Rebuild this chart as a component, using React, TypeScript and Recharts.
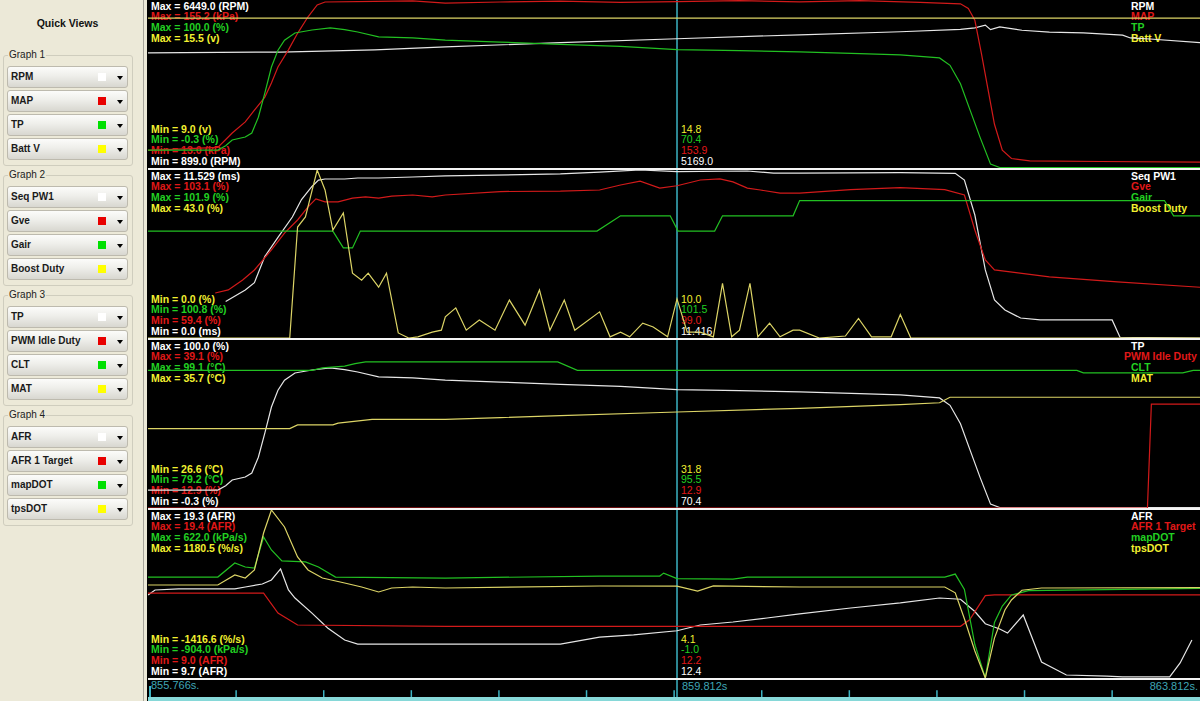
import React from "react";
import { LineChart, Line, XAxis, YAxis, ReferenceLine } from "recharts";

type Pt = [number, number];

// ---------- time axis ----------
const T_START = 855.766;
const T_END = 863.812;
const T_CURSOR = 859.812;
const TIME_TICKS = [856.44, 857.11, 857.78, 858.45, 859.12, 859.79, 860.46, 861.13, 861.8, 862.47, 863.14];
const TIME_LABELS = ["855.766s.", "859.812s", "863.812s."];

// ---------- Graph 1 ----------
const G1_NAMES = ["RPM", "MAP", "TP", "Batt V"];
const G1_UNITS = ["RPM", "kPa", "%", "v"];
const G1_MAX = [6449.0, 155.2, 100.0, 15.5];
const G1_MIN = [899.0, 13.0, -0.3, 9.0];
const G1_CUR = [5169.0, 153.9, 70.4, 14.8];
const G1_DEC = [1, 1, 1, 1];
const G1_MIN_DEC = [1, 1, 1, 1];

const RPM: Pt[] = [
  [855.766, 4700], [856.78, 4730], [857.5, 4800], [858.04, 4900], [858.92, 5040], [859.812, 5169],
  [860.75, 5300], [861.52, 5400], [861.98, 5480], [862.09, 5530], [862.17, 5620], [862.21, 5470],
  [862.28, 5560], [862.45, 5450], [862.66, 5390], [862.92, 5360], [863.22, 5290], [863.28, 5195],
  [863.43, 5160], [863.812, 5040],
];
const MAP: Pt[] = [
  [855.766, 28], [856.3, 30.5], [856.41, 42.6], [856.51, 52], [856.58, 62], [856.66, 73], [856.71, 85],
  [856.76, 98.5], [856.84, 113], [856.91, 127], [856.99, 141], [857.06, 151], [857.12, 153.5], [857.5, 154],
  [857.79, 154.5], [858.04, 152.5], [858.46, 153.5], [858.92, 154.2], [859.38, 153.2], [859.812, 153.9],
  [860.29, 154.6], [860.75, 153.6], [861.21, 154.6], [861.67, 153.2], [861.98, 152], [862.04, 148],
  [862.09, 138], [862.14, 110], [862.19, 80], [862.24, 50], [862.3, 28], [862.37, 21], [862.51, 19],
  [863.05, 18.5], [863.812, 18],
];
const TP: Pt[] = [
  [855.766, 10.4], [856.3, 10.4], [856.36, 13], [856.41, 16.4], [856.51, 18.2], [856.56, 20.6], [856.61, 30],
  [856.66, 44.5], [856.71, 60], [856.76, 70], [856.81, 76], [856.89, 80.3], [857.02, 82.1], [857.16, 83.3],
  [857.27, 82.3], [857.37, 80.9], [857.53, 78], [857.79, 77.4], [858.04, 76], [858.46, 74.9], [858.92, 73.5],
  [859.38, 72.3], [859.812, 70.4], [860.29, 69.8], [860.75, 69], [861.21, 68], [861.52, 67.2], [861.82, 65.4],
  [861.9, 61], [861.98, 50], [862.05, 35], [862.13, 18], [862.21, 2], [862.28, 0], [863.812, 0],
];
const BATT_V: Pt[] = [[855.766, 14.8], [859.812, 14.8], [863.812, 14.8]];

// ---------- Graph 2 ----------
const G2_NAMES = ["Seq PW1", "Gve", "Gair", "Boost Duty"];
const G2_UNITS = ["ms", "%", "%", "%"];
const G2_MAX = [11.529, 103.1, 101.9, 43.0];
const G2_MIN = [0.0, 59.4, 100.8, 0.0];
const G2_CUR = [11.416, 99.0, 101.5, 10.0];
const G2_DEC = [3, 1, 1, 1];
const G2_MIN_DEC = [1, 1, 1, 1];

const SEQ_PW1: Pt[] = [
  [856.36, 2.5], [856.51, 3.3], [856.58, 3.8], [856.66, 5.6], [856.76, 6.9], [856.87, 8.3], [856.94, 9.5],
  [857.02, 10.4], [857.07, 10.84], [857.12, 10.91], [857.27, 10.91], [857.37, 10.98], [857.53, 10.98],
  [857.79, 11.05], [858.04, 11.12], [858.92, 11.26], [859.22, 11.39], [859.53, 11.53], [859.812, 11.42],
  [860.35, 11.46], [860.55, 11.32], [860.75, 11.32], [861.52, 11.35], [861.94, 11.3], [862.01, 10.84],
  [862.09, 8.44], [862.17, 4.67], [862.24, 2.61], [862.32, 1.92], [862.44, 1.37], [862.59, 1.24],
  [863.14, 1.24], [863.2, 0.05], [863.812, 0],
];
const GVE: Pt[] = [
  [856.28, 71.1], [856.38, 71.9], [856.49, 74.5], [856.58, 77.1], [856.71, 82.3], [856.81, 86.7], [856.91, 90.1],
  [856.99, 93.5], [857.05, 95.6], [857.12, 94.8], [857.22, 94.8], [857.33, 95.8], [857.43, 96.1], [857.53, 95.8],
  [857.63, 96.3], [857.79, 96.6], [857.94, 96.1], [858.04, 96.6], [858.46, 97.5], [858.92, 97.6], [859.22, 97.9],
  [859.38, 99.2], [859.53, 100.2], [859.68, 98.4], [859.812, 99.0], [859.99, 100.5], [860.14, 100.8],
  [860.24, 100.0], [860.35, 98.4], [860.45, 97.9], [860.6, 97.1], [860.75, 97.1], [861.14, 98.0], [861.52, 98.5],
  [861.86, 98.0], [862.01, 96.6], [862.09, 87.5], [862.17, 79.7], [862.24, 77.1], [862.36, 76.6], [862.66, 75.3],
  [863.18, 74.0], [863.812, 72.6],
];
const GAIR: Pt[] = [
  [855.766, 101.5], [857.18, 101.5], [857.26, 101.39], [857.33, 101.39], [857.39, 101.5], [859.2, 101.5],
  [859.38, 101.6], [859.76, 101.6], [859.82, 101.5], [860.1, 101.5], [860.16, 101.6], [860.7, 101.6],
  [860.75, 101.7], [863.54, 101.7], [863.61, 101.6], [863.812, 101.6],
];
const BOOST_DUTY: Pt[] = [
  [855.766, 0], [856.85, 0], [856.91, 28.4], [856.97, 31], [857.06, 43], [857.12, 37.9], [857.18, 27.6],
  [857.26, 32], [857.33, 16.6], [857.4, 14.8], [857.45, 16.6], [857.53, 13], [857.59, 16.6], [857.68, 1.3],
  [857.76, 0], [857.83, 0.3], [857.94, 1.5], [858.01, 2], [858.04, 5.4], [858.12, 7.7], [858.2, 2],
  [858.3, 4.6], [858.42, 2], [858.53, 9.7], [858.65, 3.3], [858.76, 12.3], [858.84, 2], [858.95, 9.7],
  [859.03, 2], [859.22, 6.7], [859.3, 0.3], [859.38, 1.5], [859.45, 0.3], [859.55, 3.8], [859.63, 2.8],
  [859.74, 0.3], [859.812, 10.0], [859.89, 1.5], [859.99, 1.5], [860.09, 0.3], [860.16, 14], [860.23, 0.3],
  [860.29, 2], [860.37, 14], [860.43, 0.3], [860.52, 3.8], [860.6, 0.3], [860.7, 2], [860.75, 2], [860.9, 0],
  [861.1, 0.5], [861.2, 5], [861.3, 0.3], [861.45, 0.3], [861.52, 6], [861.6, 0], [863.812, 0],
];

// ---------- Graph 3 ----------
const G3_NAMES = ["TP", "PWM Idle Duty", "CLT", "MAT"];
const G3_UNITS = ["%", "%", "°C", "°C"];
const G3_MAX = [100.0, 39.1, 99.1, 35.7];
const G3_MIN = [-0.3, 12.9, 79.2, 26.6];
const G3_CUR = [70.4, 12.9, 95.5, 31.8];
const G3_DEC = [1, 1, 1, 1];
const G3_MIN_DEC = [1, 1, 1, 1];

const PWM_IDLE: Pt[] = [[855.766, 12.9], [863.41, 12.9], [863.44, 29.1], [863.812, 29.1]];
const CLT: Pt[] = [
  [855.766, 95.5], [857.02, 95.5], [857.1, 95.8], [857.27, 96.0], [857.35, 96.3], [857.43, 96.5],
  [858.9, 96.5], [859.05, 95.5], [862.87, 95.5], [862.92, 95.2], [863.68, 95.2], [863.76, 95.5], [863.812, 95.5],
];
const MAT: Pt[] = [
  [855.766, 30.9], [856.85, 30.9], [856.91, 31.1], [857.18, 31.1], [857.22, 31.2], [857.48, 31.4],
  [858.04, 31.4], [858.46, 31.5], [858.92, 31.6], [859.812, 31.8], [860.75, 32.0], [861.52, 32.2],
  [861.82, 32.3], [861.9, 32.6], [863.812, 32.6],
];

// ---------- Graph 4 ----------
const G4_NAMES = ["AFR", "AFR 1 Target", "mapDOT", "tpsDOT"];
const G4_UNITS = ["AFR", "AFR", "kPa/s", "%/s"];
const G4_MAX = [19.3, 19.4, 622.0, 1180.5];
const G4_MIN = [9.7, 9.0, -904.0, -1416.6];
const G4_CUR = [12.4, 12.2, -1.0, 4.1];
const G4_DEC = [1, 1, 1, 1];
const G4_MIN_DEC = [1, 1, 1, 1];

const AFR: Pt[] = [
  [855.766, 14.44], [855.82, 14.73], [856.0, 14.79], [856.43, 14.79], [856.51, 14.9], [856.64, 15.07],
  [856.71, 15.3], [856.78, 15.93], [856.84, 14.73], [856.89, 14.27], [857.02, 13.41], [857.14, 12.56],
  [857.27, 11.87], [857.37, 11.64], [858.04, 11.64], [858.92, 11.64], [859.22, 12.04], [859.48, 12.16],
  [859.812, 12.4], [859.99, 12.73], [860.24, 12.9], [860.5, 13.13], [860.75, 13.36], [861.14, 13.7],
  [861.52, 13.99], [861.82, 14.27], [861.98, 14.2], [862.09, 13.5], [862.17, 12.8], [862.28, 12.5],
  [862.34, 12.27], [862.46, 13.3], [862.6, 10.61], [862.79, 9.87], [863.1, 9.81], [863.22, 9.76],
  [863.58, 9.76], [863.66, 10.56], [863.75, 11.87],
];
const AFR_TARGET: Pt[] = [
  [855.766, 14.26], [856.65, 14.26], [856.76, 13.02], [856.91, 12.28], [858.04, 12.2], [861.98, 12.2],
  [862.05, 12.6], [862.17, 14.1], [862.24, 14.14], [863.812, 14.14],
];
const MAP_DOT: Pt[] = [
  [855.766, 13], [856.3, 13], [856.43, 141], [856.51, 104], [856.58, 95], [856.65, 377], [856.71, 259],
  [856.79, 159], [856.97, 150], [857.07, 104], [857.2, 13], [858.04, 4], [859.22, 22], [859.68, 22],
  [859.71, 49], [859.812, -1], [860.24, -5], [860.35, 13], [860.75, 13], [861.86, 13], [861.94, 40],
  [862.01, -100], [862.09, -600], [862.17, -904], [862.24, -400], [862.3, -250], [862.37, -150],
  [862.5, -110], [863.812, -90],
];
const TPS_DOT: Pt[] = [
  [855.766, 21], [856.3, 21], [856.43, 176], [856.51, 129], [856.58, 253], [856.65, 825], [856.71, 1180.5],
  [856.81, 918], [856.91, 454], [856.99, 253], [857.1, 129], [857.27, 52], [857.4, -10], [857.53, -87],
  [857.63, -25], [857.79, -10], [858.04, -25], [859.22, 6], [859.812, 4.1], [859.97, -72], [860.09, 6],
  [860.75, -10], [861.86, -10], [861.94, -100], [862.01, -500], [862.09, -1000], [862.17, -1416.6],
  [862.24, -800], [862.32, -365], [862.37, -211], [862.45, -60], [862.6, -25], [863.812, -20],
];

// ---------- styling ----------
const LINE_COLORS = ["#E6E6E6", "#D21A1A", "#22C022", "#DCD466"];
const TEXT_COLORS = ["#FFFFFF", "#E01818", "#22D022", "#F2F030"];
const SWATCH = ["#FFFFFF", "#E80000", "#00E000", "#FFFF00"];
const CYAN = "#3CB4C4";
const STRIP = "#86D8D8";
const PLOT_LEFT = 148;
const PLOT_W = 1052;
const PANEL_H = 168;
const FONT = "'Liberation Sans', Arial, sans-serif";

type PanelDef = {
  names: string[];
  units: string[];
  max: number[];
  min: number[];
  cur: number[];
  dec: number[];
  minDec: number[];
  data: Pt[][];
  nameX: number[];
};

const PANELS: PanelDef[] = [
  { names: G1_NAMES, units: G1_UNITS, max: G1_MAX, min: G1_MIN, cur: G1_CUR, dec: G1_DEC, minDec: G1_MIN_DEC, data: [RPM, MAP, TP, BATT_V], nameX: [1131, 1131, 1131, 1131] },
  { names: G2_NAMES, units: G2_UNITS, max: G2_MAX, min: G2_MIN, cur: G2_CUR, dec: G2_DEC, minDec: G2_MIN_DEC, data: [SEQ_PW1, GVE, GAIR, BOOST_DUTY], nameX: [1131, 1131, 1131, 1131] },
  { names: G3_NAMES, units: G3_UNITS, max: G3_MAX, min: G3_MIN, cur: G3_CUR, dec: G3_DEC, minDec: G3_MIN_DEC, data: [TP, PWM_IDLE, CLT, MAT], nameX: [1131, 1124, 1131, 1131] },
  { names: G4_NAMES, units: G4_UNITS, max: G4_MAX, min: G4_MIN, cur: G4_CUR, dec: G4_DEC, minDec: G4_MIN_DEC, data: [AFR, AFR_TARGET, MAP_DOT, TPS_DOT], nameX: [1131, 1131, 1131, 1131] },
];

const txt = (left: number, centerY: number, color: string, bold: boolean, s: string, key: string) => (
  <div
    key={key}
    style={{
      position: "absolute",
      left,
      top: centerY - 6,
      height: 12,
      lineHeight: "12px",
      fontFamily: FONT,
      fontSize: 10.5,
      fontWeight: bold ? 700 : 400,
      color,
      whiteSpace: "nowrap",
    }}
  >
    {s}
  </div>
);

function Panel({ def, top }: { def: PanelDef; top: number }) {
  const texts: React.ReactNode[] = [];
  for (let i = 0; i < 4; i++) {
    texts.push(txt(151, top + 5.5 + i * 10.8, TEXT_COLORS[i], true, `Max = ${def.max[i].toFixed(def.dec[i])} (${def.units[i]})`, "mx" + i));
    texts.push(txt(def.nameX[i], top + 5.5 + i * 10.8, TEXT_COLORS[i], true, def.names[i], "nm" + i));
    const j = 3 - i;
    texts.push(txt(151, top + 128.5 + i * 10.8, TEXT_COLORS[j], true, `Min = ${def.min[j].toFixed(def.minDec[j])} (${def.units[j]})`, "mn" + i));
    texts.push(txt(681, top + 128.5 + i * 10.8, TEXT_COLORS[j], false, def.cur[j].toFixed(def.dec[j]), "cv" + i));
  }
  return (
    <>
      {texts}
      <div style={{ position: "absolute", left: PLOT_LEFT, top, width: PLOT_W, height: PANEL_H }}>
        <LineChart width={PLOT_W} height={PANEL_H} margin={{ top: 0, right: 0, bottom: 0, left: 0 }}>
          <XAxis type="number" dataKey="t" domain={[T_START, T_END]} allowDataOverflow hide />
          {def.data.map((_, i) => (
            <YAxis key={i} yAxisId={"y" + i} type="number" domain={[def.min[i], def.max[i]]} allowDataOverflow hide />
          ))}
          <ReferenceLine x={T_CURSOR} yAxisId="y0" stroke={CYAN} strokeWidth={1.5} />
          {def.data.map((d, i) => (
            <Line
              key={i}
              yAxisId={"y" + i}
              data={d.map(([t, v]) => ({ t, v }))}
              dataKey="v"
              type="linear"
              stroke={LINE_COLORS[i]}
              strokeWidth={1.2}
              dot={false}
              activeDot={false}
              isAnimationActive={false}
            />
          ))}
        </LineChart>
      </div>
      <div style={{ position: "absolute", left: PLOT_LEFT, top: top + PANEL_H, width: PLOT_W, height: 2, background: "#F4F4F4" }} />
    </>
  );
}

function Sidebar() {
  const groups = [G1_NAMES, G2_NAMES, G3_NAMES, G4_NAMES];
  return (
    <div style={{ position: "absolute", left: 0, top: 0, width: 143, height: 701, background: "#ECE9D8", fontFamily: FONT }}>
      <div style={{ position: "absolute", left: 0, width: 135, top: 17, textAlign: "center", fontWeight: 700, fontSize: 10.5, color: "#111" }}>
        Quick Views
      </div>
      {groups.map((names, g) => {
        const gy = 55 + g * 120;
        return (
          <React.Fragment key={g}>
            <div style={{ position: "absolute", left: 3, top: gy, width: 128, height: 109, border: "1px solid #CFCDBE", borderRadius: 3 }} />
            <div style={{ position: "absolute", left: 8, top: gy - 6, lineHeight: "12px", fontSize: 10, color: "#222", background: "#ECE9D8", padding: "0 1px" }}>
              {`Graph ${g + 1}`}
            </div>
            {names.map((n, i) => (
              <div
                key={i}
                style={{
                  position: "absolute",
                  left: 7,
                  top: gy + 11 + i * 24,
                  width: 119,
                  height: 20,
                  border: "1px solid #BDBAAE",
                  borderRadius: 3,
                  background: "linear-gradient(#FCFCFA, #EEEEEA 45%, #D8D7D0)",
                }}
              >
                <div style={{ position: "absolute", left: 3, top: 4, lineHeight: "12px", fontSize: 10, fontWeight: 700, color: "#1A1A1A", whiteSpace: "nowrap" }}>
                  {n}
                </div>
                <div style={{ position: "absolute", left: 90, top: 6, width: 8, height: 8, background: SWATCH[i] }} />
                <div
                  style={{
                    position: "absolute",
                    left: 109,
                    top: 9,
                    width: 0,
                    height: 0,
                    borderLeft: "3.5px solid transparent",
                    borderRight: "3.5px solid transparent",
                    borderTop: "4px solid #000",
                  }}
                />
              </div>
            ))}
          </React.Fragment>
        );
      })}
    </div>
  );
}

export default function App() {
  return (
    <div style={{ position: "fixed", left: 0, top: 0, width: 1200, height: 701, background: "#000", overflow: "hidden" }}>
      <Sidebar />
      <div style={{ position: "absolute", left: 143, top: 0, width: 1, height: 701, background: "#A8A69C" }} />
      <div style={{ position: "absolute", left: 144, top: 0, width: 3, height: 701, background: "#ECE9D8" }} />
      {PANELS.map((p, k) => (
        <Panel key={k} def={p} top={k * 170} />
      ))}
      {/* time axis strip */}
      <div style={{ position: "absolute", left: PLOT_LEFT, top: 697, width: PLOT_W, height: 4, background: STRIP }} />
      <div style={{ position: "absolute", left: PLOT_LEFT, top: 680, width: PLOT_W, height: 17 }}>
        <LineChart width={PLOT_W} height={17} margin={{ top: 0, right: 0, bottom: 0, left: 0 }} data={[{ t: T_START }, { t: T_END }]}>
          <XAxis type="number" dataKey="t" domain={[T_START, T_END]} allowDataOverflow hide />
          <YAxis yAxisId="a" type="number" domain={[0, 1]} allowDataOverflow hide />
          <ReferenceLine x={T_CURSOR} yAxisId="a" stroke={CYAN} strokeWidth={1.5} />
          {TIME_TICKS.map((t) => (
            <ReferenceLine
              key={t}
              yAxisId="a"
              segment={[{ x: t, y: 0 }, { x: t, y: 0.4 }]}
              stroke={CYAN}
              strokeWidth={1.5}
            />
          ))}
        </LineChart>
      </div>
      <div style={{ position: "absolute", left: 149, top: 686, width: 1.5, height: 11, background: CYAN }} />
      <div style={{ position: "absolute", left: 151, top: 679, fontFamily: FONT, fontSize: 11, lineHeight: "13px", color: "#3FA6B6" }}>{TIME_LABELS[0]}</div>
      <div style={{ position: "absolute", left: 682, top: 680, fontFamily: FONT, fontSize: 11, lineHeight: "13px", color: "#3FA6B6" }}>{TIME_LABELS[1]}</div>
      <div style={{ position: "absolute", right: 2, top: 680, fontFamily: FONT, fontSize: 11, lineHeight: "13px", color: "#3FA6B6" }}>{TIME_LABELS[2]}</div>
    </div>
  );
}
